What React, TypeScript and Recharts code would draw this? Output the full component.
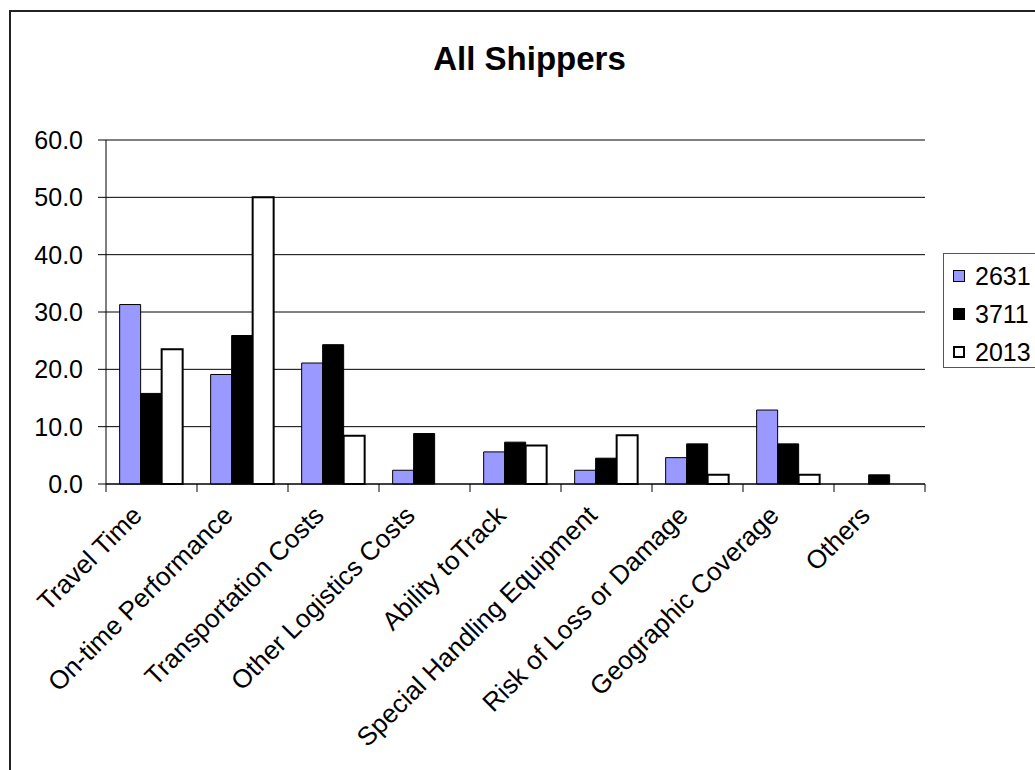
import { BarChart, Bar, XAxis, YAxis, CartesianGrid } from "recharts";

// Values
const CATEGORIES = [
  "Travel Time",
  "On-time Performance",
  "Transportation Costs",
  "Other Logistics Costs",
  "Ability toTrack",
  "Special Handling Equipment",
  "Risk of Loss or Damage",
  "Geographic Coverage",
  "Others",
];
const SERIES_2631 = [31.3, 19.1, 21.1, 2.4, 5.6, 2.4, 4.6, 12.9, 0];
const SERIES_3711 = [15.8, 25.9, 24.3, 8.8, 7.3, 4.5, 7.0, 7.0, 1.6];
const SERIES_2013 = [23.5, 50.0, 8.4, 0, 6.7, 8.5, 1.6, 1.6, 0];
const Y_TICKS = [0, 10, 20, 30, 40, 50, 60];

const data = CATEGORIES.map((name, i) => ({
  name,
  s2631: SERIES_2631[i],
  s3711: SERIES_3711[i],
  s2013: SERIES_2013[i],
}));

const SERIES = [
  { key: "s2631", name: "2631", fill: "#9999FF", strokeWidth: 1 },
  { key: "s3711", name: "3711", fill: "#000000", strokeWidth: 1 },
  { key: "s2013", name: "2013", fill: "#FFFFFF", strokeWidth: 2 },
];

const FONT = "'Liberation Sans', Arial, sans-serif";
const W = 1035;
const H = 770;
const PLOT_LEFT = 106;
const PLOT_RIGHT = 925;
const PLOT_TOP = 140;
const PLOT_BOTTOM = 484;
const BAND = (PLOT_RIGHT - PLOT_LEFT) / CATEGORIES.length;

// category ticks sit on the band edges (Excel style), labels run at -45deg
function CategoryTick(props: any) {
  const { x, y, payload, index } = props;
  const last = index === CATEGORIES.length - 1;
  const tx = x - 8;
  const ty = y + 33;
  return (
    <g>
      <line x1={x - BAND / 2} x2={x - BAND / 2} y1={y} y2={y + 8} stroke="#000" />
      {last && <line x1={x + BAND / 2} x2={x + BAND / 2} y1={y} y2={y + 8} stroke="#000" />}
      <text
        x={tx}
        y={ty}
        transform={`rotate(-45 ${tx} ${ty})`}
        textAnchor="end"
        fill="#000"
        fontSize={26}
        fontFamily={FONT}
      >
        {payload.value}
      </text>
    </g>
  );
}

export default function App() {
  return (
    <div
      style={{
        position: "fixed",
        left: 0,
        top: 0,
        width: W,
        height: H,
        overflow: "hidden",
        background: "#fff",
        fontFamily: FONT,
      }}
    >
      <div
        style={{
          position: "absolute",
          left: 9,
          top: 10,
          width: 1100,
          height: 900,
          border: "2px solid #222",
        }}
      />
      <div
        style={{
          position: "absolute",
          left: 0,
          width: 1059,
          top: 40,
          textAlign: "center",
          fontWeight: "bold",
          fontSize: 33,
          lineHeight: "38px",
        }}
      >
        All Shippers
      </div>

      <div style={{ position: "absolute", left: 0, top: 0 }}>
        <BarChart
          width={W}
          height={H}
          data={data}
          margin={{ top: PLOT_TOP, right: W - PLOT_RIGHT, bottom: 0, left: 0 }}
          barCategoryGap="15%"
          barGap={0}
        >
          <CartesianGrid yAxisId="left" vertical={false} stroke="#000" />
          <XAxis
            dataKey="name"
            interval={0}
            tickLine={false}
            tickSize={0}
            tickMargin={0}
            axisLine={{ stroke: "#000" }}
            height={H - PLOT_BOTTOM}
            tick={<CategoryTick />}
          />
          <YAxis
            yAxisId="left"
            domain={[0, 60]}
            ticks={Y_TICKS}
            interval={0}
            width={PLOT_LEFT}
            tickFormatter={(v) => Number(v).toFixed(1)}
            tick={{ fill: "#000", fontSize: 25, fontFamily: FONT }}
            tickLine={{ stroke: "#000" }}
            tickSize={8}
            tickMargin={15}
            axisLine={{ stroke: "#000" }}
          />
          <YAxis
            yAxisId="right"
            orientation="right"
            domain={[0, 60]}
            width={0}
            tick={false}
            tickLine={false}
            axisLine={{ stroke: "#808080" }}
          />
          {SERIES.map((s) => (
            <Bar
              key={s.key}
              yAxisId="left"
              dataKey={s.key}
              name={s.name}
              fill={s.fill}
              stroke="#000"
              strokeWidth={s.strokeWidth}
              isAnimationActive={false}
            />
          ))}
        </BarChart>
      </div>

      <div
        style={{
          position: "absolute",
          left: 943,
          top: 253,
          width: 140,
          height: 115,
          border: "1px solid #555",
          boxSizing: "border-box",
        }}
      >
        {SERIES.map((s, i) => (
          <div
            key={s.key}
            style={{
              position: "absolute",
              left: 9,
              top: 7 + i * 38,
              height: 30,
              display: "flex",
              alignItems: "center",
              fontSize: 25,
              whiteSpace: "nowrap",
            }}
          >
            <span
              style={{
                display: "inline-block",
                width: 12,
                height: 12,
                background: s.fill,
                border: `${s.strokeWidth}px solid #000`,
                boxSizing: "border-box",
                marginRight: 10,
              }}
            />
            {s.name}
          </div>
        ))}
      </div>
    </div>
  );
}
